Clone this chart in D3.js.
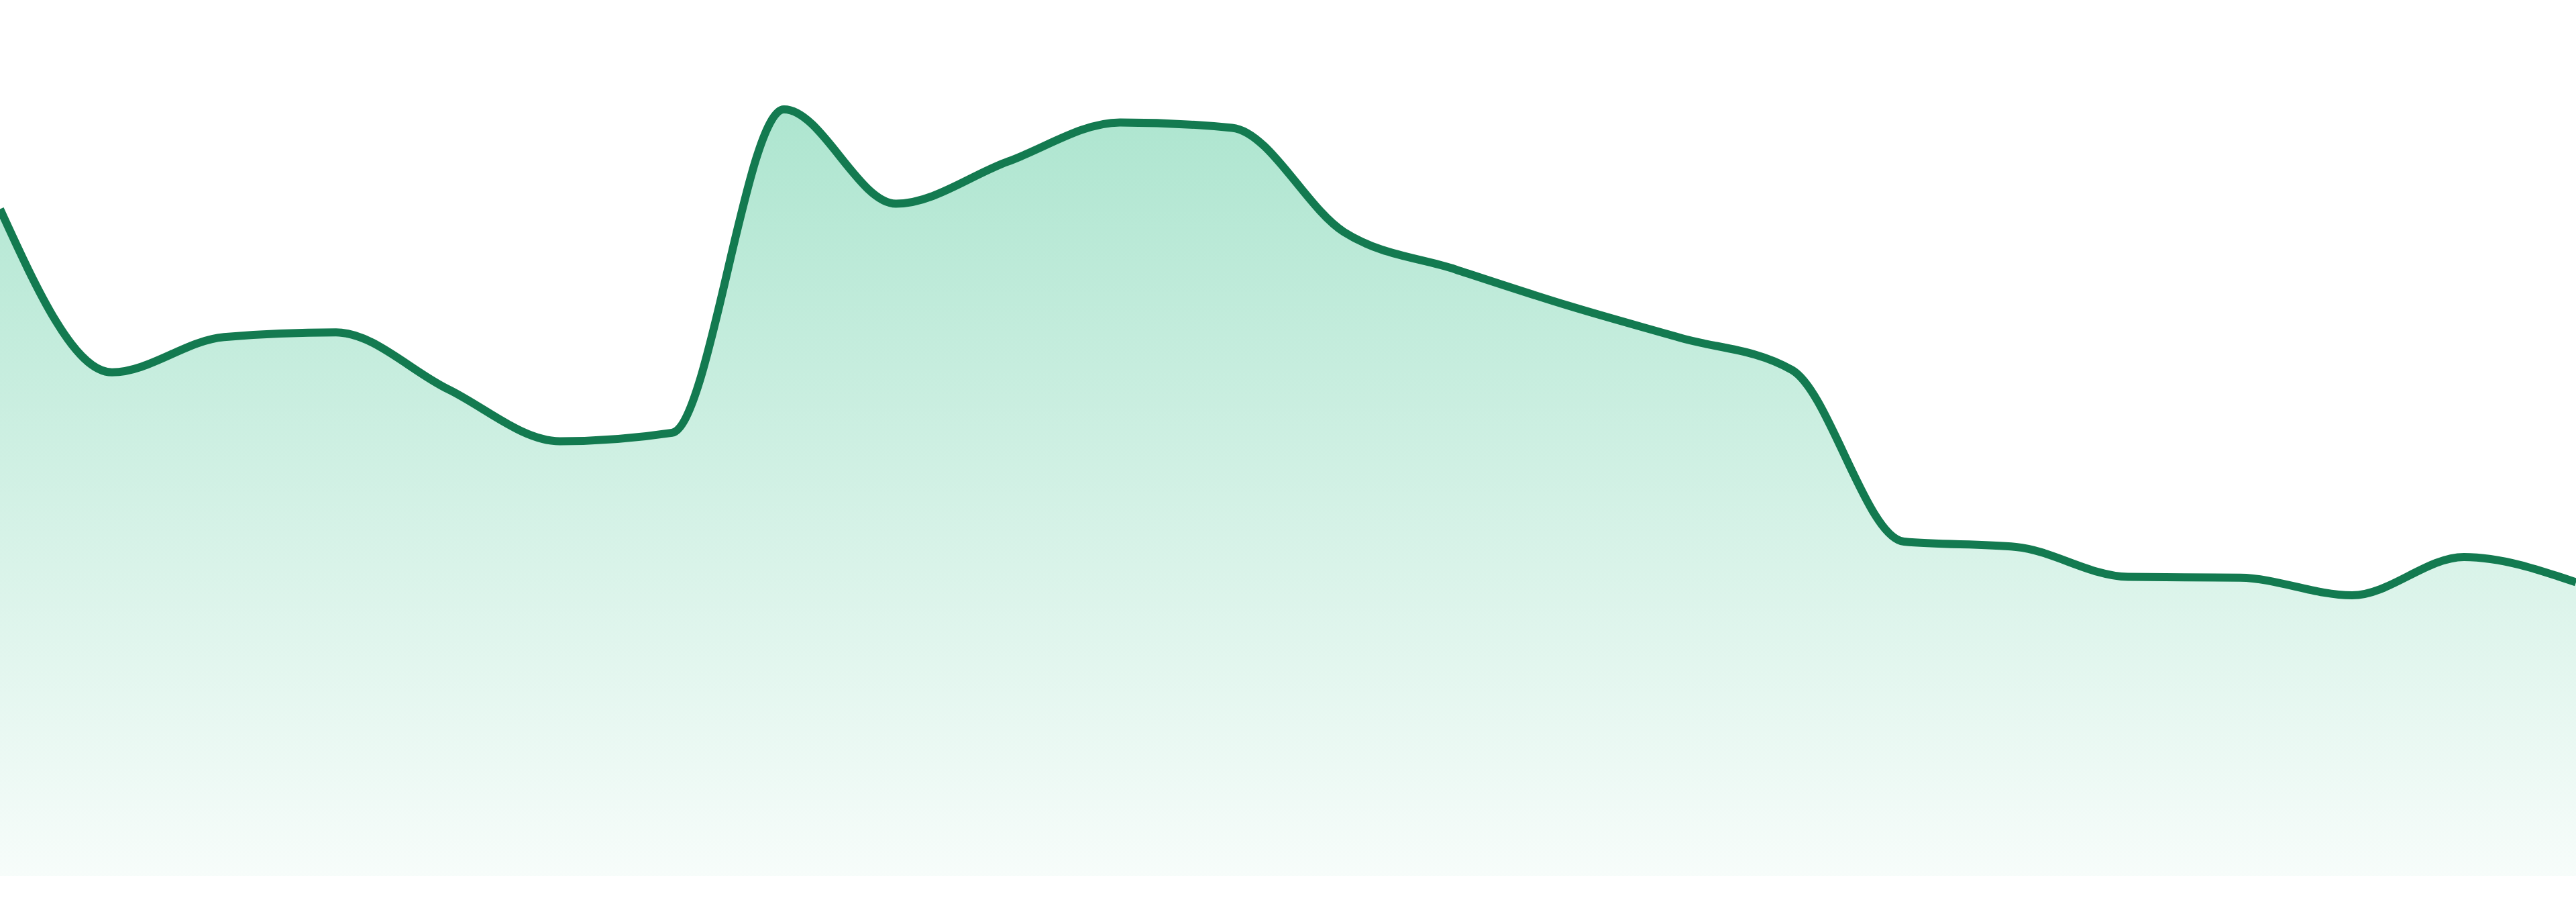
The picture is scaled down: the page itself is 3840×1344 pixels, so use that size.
<!DOCTYPE html>
<html>
<head>
<meta charset="utf-8">
<script src="https://cdn.jsdelivr.net/npm/d3@7"></script>
<style>
  html, body { margin: 0; padding: 0; background: #ffffff; overflow: hidden; }
  svg { display: block; }
</style>
</head>
<body>
<div id="chart"></div>
<script>
// ---- data ----
const categories = ["P01","P02","P03","P04","P05","P06","P07","P08","P09","P10","P11","P12",
                    "P13","P14","P15","P16","P17","P18","P19","P20","P21","P22","P23","P24"];
const values = [87.0, 65.7, 70.3, 70.9, 63.5, 56.7, 57.8, 100.0, 87.7, 93.2, 98.3, 97.6,
                84.0, 79.1, 74.4, 70.2, 66.0, 43.6, 42.9, 39.0, 38.9, 36.6, 41.6, 38.3];
const yDomain = [0, 100];

// ---- layout ----
const W = 3840, H = 1344;
const baseY = 1305, topY = 163;

const svg = d3.select("#chart").append("svg")
  .attr("width", W).attr("height", H)
  .attr("viewBox", `0 0 ${W} ${H}`);

const x = d3.scalePoint().domain(categories).range([0, W]);
const y = d3.scaleLinear().domain(yDomain).range([baseY, topY]);

const data = categories.map((c, i) => ({ c, v: values[i] }));

const defs = svg.append("defs");
const grad = defs.append("linearGradient")
  .attr("id", "fillGrad")
  .attr("gradientUnits", "userSpaceOnUse")
  .attr("x1", 0).attr("x2", 0)
  .attr("y1", y(yDomain[1])).attr("y2", y(yDomain[0]));
grad.append("stop").attr("offset", "0%").attr("stop-color", "#2ebd85").attr("stop-opacity", 0.39);
grad.append("stop").attr("offset", "100%").attr("stop-color", "#2ebd85").attr("stop-opacity", 0.04);

const area = d3.area()
  .x(d => x(d.c))
  .y0(y(yDomain[0]))
  .y1(d => y(d.v))
  .curve(d3.curveMonotoneX);

const line = d3.line()
  .x(d => x(d.c))
  .y(d => y(d.v))
  .curve(d3.curveMonotoneX);

svg.append("path")
  .datum(data)
  .attr("d", area)
  .attr("fill", "url(#fillGrad)");

svg.append("path")
  .datum(data)
  .attr("d", line)
  .attr("fill", "none")
  .attr("stroke", "#137a50")
  .attr("stroke-width", 12)
  .attr("stroke-linejoin", "round");
</script>
</body>
</html>
